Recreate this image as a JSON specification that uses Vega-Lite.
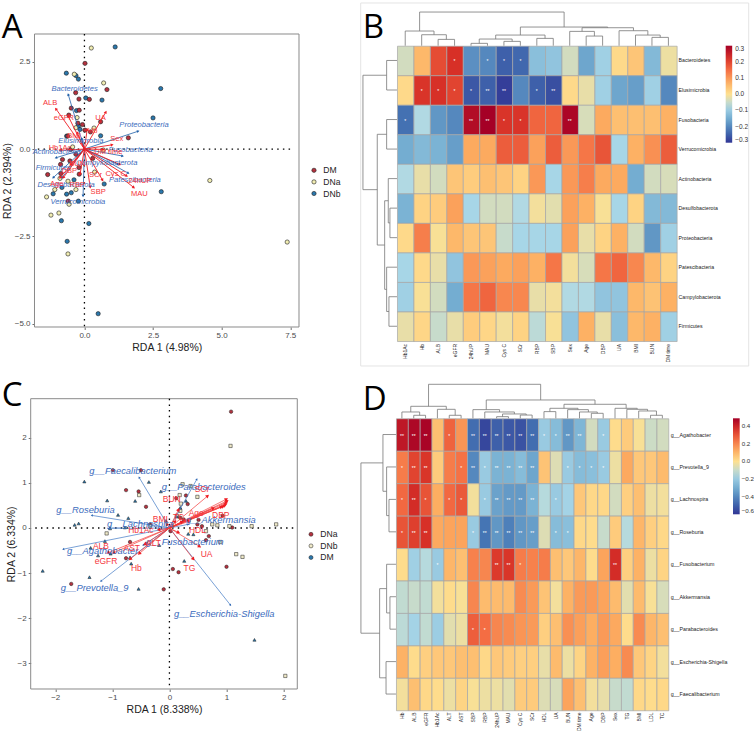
{"$schema":"https://vega.github.io/schema/vega-lite/v6.json","padding":{"left":1.7,"top":2,"right":0,"bottom":0},"columns":2,"align":"none","bounds":"flush","spacing":{"row":10,"column":61},
"config":{"view":{"stroke":null},"font":"Liberation Sans","axis":{"grid":false,"domain":false,"tickColor":"#333333","tickSize":2.5,"tickWidth":0.7,"labelFontSize":8,"labelColor":"#4d4d4d","labelFont":"Liberation Sans","titleFont":"Liberation Sans","titleFontSize":10.5,"titleFontWeight":"normal","titleColor":"#222222"},"legend":{"labelFont":"Liberation Sans"},"title":{"font":"Open Sans","fontSize":33,"fontWeight":"normal","color":"#000000","anchor":"start","frame":"group","baseline":"alphabetic"}},
"datasets":{
"a_pts":[{"x":1.12,"y":2.92,"g":"DNb"},{"x":-0.66,"y":2.17,"g":"DNb"},{"x":-0.31,"y":2.1,"g":"DNb"},{"x":-0.22,"y":2.0,"g":"DNb"},{"x":2.78,"y":1.73,"g":"DNb"},{"x":0.05,"y":1.46,"g":"DNb"},{"x":0.64,"y":1.4,"g":"DNb"},{"x":2.5,"y":0.89,"g":"DNb"},{"x":-0.29,"y":1.1,"g":"DNb"},{"x":0.59,"y":0.38,"g":"DNb"},{"x":-0.65,"y":0.37,"g":"DNb"},{"x":-0.38,"y":-0.88,"g":"DNb"},{"x":0.72,"y":-1.0,"g":"DNb"},{"x":2.8,"y":-1.22,"g":"DNb"},{"x":-1.14,"y":-1.28,"g":"DNb"},{"x":-0.65,"y":-1.29,"g":"DNb"},{"x":-0.48,"y":-1.25,"g":"DNb"},{"x":-0.22,"y":-1.49,"g":"DNb"},{"x":-0.84,"y":-2.05,"g":"DNb"},{"x":0.16,"y":-2.13,"g":"DNb"},{"x":-0.63,"y":-2.64,"g":"DNb"},{"x":0.5,"y":-4.71,"g":"DNb"},{"x":-0.22,"y":0.66,"g":"DNb"},{"x":-0.16,"y":0.56,"g":"DNb"},{"x":-0.82,"y":-1.1,"g":"DNb"},
{"x":0.02,"y":2.45,"g":"DM"},{"x":0.82,"y":1.7,"g":"DM"},{"x":-0.32,"y":1.61,"g":"DM"},{"x":-0.2,"y":1.43,"g":"DM"},{"x":0.18,"y":1.42,"g":"DM"},{"x":-0.48,"y":1.17,"g":"DM"},{"x":-0.19,"y":1.11,"g":"DM"},{"x":-0.57,"y":0.97,"g":"DM"},{"x":-0.07,"y":0.7,"g":"DM"},{"x":-0.24,"y":0.74,"g":"DM"},{"x":0.59,"y":0.78,"g":"DM"},{"x":0.02,"y":0.54,"g":"DM"},{"x":0.22,"y":0.49,"g":"DM"},{"x":1.6,"y":0.32,"g":"DM"},{"x":-0.61,"y":0.37,"g":"DM"},{"x":-0.5,"y":-0.01,"g":"DM"},{"x":-0.8,"y":-0.3,"g":"DM"},{"x":-0.87,"y":-0.44,"g":"DM"},{"x":-1.34,"y":-0.73,"g":"DM"},{"x":-0.86,"y":-0.7,"g":"DM"},{"x":-0.19,"y":-0.72,"g":"DM"},{"x":-0.2,"y":-0.53,"g":"DM"},{"x":-0.53,"y":-0.34,"g":"DM"},{"x":-0.59,"y":-1.49,"g":"DM"},{"x":-0.31,"y":-0.15,"g":"DM"},{"x":0.3,"y":-0.27,"g":"DM"},
{"x":0.25,"y":2.89,"g":"DNa"},{"x":-0.37,"y":2.14,"g":"DNa"},{"x":0.7,"y":1.89,"g":"DNa"},{"x":-0.27,"y":0.9,"g":"DNa"},{"x":-0.31,"y":0.61,"g":"DNa"},{"x":0.35,"y":0.6,"g":"DNa"},{"x":-0.43,"y":0.06,"g":"DNa"},{"x":0.69,"y":-0.03,"g":"DNa"},{"x":0.37,"y":-0.66,"g":"DNa"},{"x":-0.89,"y":-0.84,"g":"DNa"},{"x":-0.6,"y":-0.92,"g":"DNa"},{"x":-0.31,"y":-1.16,"g":"DNa"},{"x":-1.08,"y":-1.16,"g":"DNa"},{"x":-1.38,"y":-1.37,"g":"DNa"},{"x":-0.93,"y":-1.83,"g":"DNa"},{"x":-1.22,"y":-1.89,"g":"DNa"},{"x":-0.56,"y":-1.58,"g":"DNa"},{"x":-0.6,"y":-3.0,"g":"DNa"},{"x":4.57,"y":-0.9,"g":"DNa"},{"x":7.39,"y":-2.66,"g":"DNa"}],
"a_env":[{"name":"ALB","x":-1.04,"y":1.15,"label_x":-1.25,"label_y":1.32,"bearing":-35},{"name":"eGFR","x":-0.59,"y":0.94,"label_x":-0.75,"label_y":0.9,"bearing":-26},{"name":"UA","x":0.78,"y":1.06,"label_x":0.59,"label_y":0.88,"bearing":30},{"name":"Hb","x":0.1,"y":0.56,"label_x":0.3,"label_y":0.51,"bearing":8},{"name":"Sex","x":1.01,"y":0.12,"label_x":1.18,"label_y":0.3,"bearing":81},{"name":"Hb1Ac","x":-0.89,"y":-0.04,"label_x":-0.89,"label_y":0.02,"bearing":-93},{"name":"DM time","x":0.69,"y":-0.01,"label_x":0.87,"label_y":-0.08,"bearing":91},{"name":"Cys C","x":1.29,"y":-0.44,"label_x":1.14,"label_y":-0.72,"bearing":113},{"name":"MAU","x":1.8,"y":-1.1,"label_x":2.0,"label_y":-1.28,"bearing":128},{"name":"24hUP","x":1.54,"y":-0.77,"label_x":2.02,"label_y":-0.91,"bearing":123},{"name":"SBP","x":0.21,"y":-1.09,"label_x":0.5,"label_y":-1.22,"bearing":171},{"name":"SCr","x":0.66,"y":-0.89,"label_x":0.4,"label_y":-0.75,"bearing":150},{"name":"RBP","x":-0.16,"y":-0.72,"label_x":-0.26,"label_y":-1.04,"bearing":-170},{"name":"DBP","x":-0.77,"y":-0.82,"label_x":-0.55,"label_y":-0.63,"bearing":-144},{"name":"Age","x":-0.89,"y":-0.82,"label_x":-1.01,"label_y":-1.01,"bearing":-140},{"name":"BMI","x":-0.26,"y":0.47,"label_x":-0.38,"label_y":0.37,"bearing":-23},{"name":"BUN","x":-0.5,"y":-0.44,"label_x":-0.26,"label_y":-0.44,"bearing":-138}],
"a_sp":[{"name":"Bacteroidetes","x":-0.59,"y":1.56,"label_x":-0.36,"label_y":1.72,"bearing":-17},{"name":"Proteobacteria","x":1.96,"y":0.51,"label_x":2.17,"label_y":0.69,"bearing":72},{"name":"Elusimicrobia","x":-0.1,"y":0.3,"label_x":-0.13,"label_y":0.23,"bearing":-15},{"name":"Fusobacteria","x":1.39,"y":-0.2,"label_x":1.68,"label_y":-0.03,"bearing":100},{"name":"Actinobacteria","x":-1.04,"y":-0.25,"label_x":-1.01,"label_y":-0.09,"bearing":-107},{"name":"Patescibacteria","x":1.6,"y":-0.69,"label_x":1.84,"label_y":-0.89,"bearing":119},{"name":"Campylobacterota","x":1.23,"y":-0.44,"label_x":0.81,"label_y":-0.4,"bearing":114},{"name":"Firmicutes","x":-1.14,"y":-0.82,"label_x":-1.14,"label_y":-0.53,"bearing":-133},{"name":"Desulfobacterota","x":-0.82,"y":-0.82,"label_x":-0.67,"label_y":-1.02,"bearing":-142},{"name":"Verrucomicrobia","x":-0.05,"y":-1.34,"label_x":-0.24,"label_y":-1.51,"bearing":-178}],
"c_pts":[{"x":1.08,"y":2.58,"g":"DNa"},{"x":-0.99,"y":1.28,"g":"DNa"},{"x":-0.5,"y":1.28,"g":"DNa"},{"x":-0.76,"y":0.84,"g":"DNa"},{"x":-0.54,"y":0.81,"g":"DNa"},{"x":-0.41,"y":0.47,"g":"DNa"},{"x":0.29,"y":0.72,"g":"DNa"},{"x":0.32,"y":0.53,"g":"DNa"},{"x":0.51,"y":0.18,"g":"DNa"},{"x":0.12,"y":0.66,"g":"DNa"},{"x":-0.34,"y":0.08,"g":"DNa"},{"x":-0.69,"y":-0.31,"g":"DNa"},{"x":-0.76,"y":-0.67,"g":"DNa"},{"x":0.06,"y":-0.91,"g":"DNa"},{"x":0.16,"y":-0.98,"g":"DNa"},{"x":1.0,"y":-0.86,"g":"DNa"},{"x":-1.72,"y":-1.24,"g":"DNa"},{"x":-0.1,"y":-1.36,"g":"DNa"},{"x":0.69,"y":-0.18,"g":"DNa"},{"x":0.64,"y":-0.27,"g":"DNa"},{"x":0.49,"y":0.08,"g":"DNa"},{"x":0.19,"y":0.23,"g":"DNa"},{"x":1.1,"y":0.01,"g":"DNa"},{"x":0.25,"y":0.19,"g":"DNa"},{"x":0.93,"y":0.27,"g":"DNa"},{"x":0.02,"y":-0.07,"g":"DNa"},{"x":0.57,"y":0.04,"g":"DNa"},
{"x":1.07,"y":1.82,"g":"DNb"},{"x":-0.53,"y":0.73,"g":"DNb"},{"x":-1.1,"y":-0.12,"g":"DNb"},{"x":-0.34,"y":0.04,"g":"DNb"},{"x":0.23,"y":0.97,"g":"DNb"},{"x":0.49,"y":0.69,"g":"DNb"},{"x":0.18,"y":0.73,"g":"DNb"},{"x":0.2,"y":0.54,"g":"DNb"},{"x":0.13,"y":0.27,"g":"DNb"},{"x":0.75,"y":0.08,"g":"DNb"},{"x":0.84,"y":0.06,"g":"DNb"},{"x":1.05,"y":0.04,"g":"DNb"},{"x":1.44,"y":0.04,"g":"DNb"},{"x":1.87,"y":0.08,"g":"DNb"},{"x":1.17,"y":-0.58,"g":"DNb"},{"x":1.28,"y":-0.64,"g":"DNb"},{"x":2.03,"y":-3.28,"g":"DNb"},{"x":0.64,"y":-0.07,"g":"DNb"},{"x":0.89,"y":-0.31,"g":"DNb"},{"x":0.19,"y":0.38,"g":"DNb"},{"x":0.37,"y":0.93,"g":"DNb"},
{"x":-1.49,"y":1.03,"g":"DM"},{"x":-0.36,"y":1.02,"g":"DM"},{"x":-0.15,"y":0.81,"g":"DM"},{"x":-1.09,"y":0.61,"g":"DM"},{"x":-0.6,"y":0.6,"g":"DM"},{"x":-0.9,"y":0.29,"g":"DM"},{"x":-0.72,"y":0.22,"g":"DM"},{"x":-1.59,"y":0.1,"g":"DM"},{"x":-1.66,"y":0.07,"g":"DM"},{"x":-1.04,"y":-0.01,"g":"DM"},{"x":-0.78,"y":0.01,"g":"DM"},{"x":-1.13,"y":-0.29,"g":"DM"},{"x":-1.38,"y":-0.44,"g":"DM"},{"x":-1.25,"y":-0.61,"g":"DM"},{"x":-1.03,"y":-0.57,"g":"DM"},{"x":-0.67,"y":-0.79,"g":"DM"},{"x":-0.69,"y":-0.65,"g":"DM"},{"x":-2.22,"y":-0.95,"g":"DM"},{"x":-1.4,"y":-1.09,"g":"DM"},{"x":-0.54,"y":-1.35,"g":"DM"},{"x":0.26,"y":-0.73,"g":"DM"},{"x":1.49,"y":-2.48,"g":"DM"},{"x":-0.18,"y":-0.38,"g":"DM"},{"x":-0.41,"y":-0.34,"g":"DM"},{"x":0.42,"y":-0.14,"g":"DM"},{"x":0.33,"y":-0.13,"g":"DM"},{"x":0.29,"y":0.6,"g":"DM"},{"x":0.19,"y":0.45,"g":"DM"},{"x":0.13,"y":0.25,"g":"DM"},{"x":-0.06,"y":0.16,"g":"DM"}],
"c_env":[{"name":"DBP","x":1.0,"y":0.64,"label_x":0.9,"label_y":0.29,"bearing":63},{"name":"24hUP","x":1.01,"y":0.6,"bearing":65},{"name":"MAU","x":1.0,"y":0.57,"bearing":66},{"name":"Cys C","x":0.99,"y":0.53,"bearing":67},{"name":"SBP","x":0.97,"y":0.5,"bearing":68},{"name":"RBP","x":0.94,"y":0.48,"bearing":68},{"name":"Sex","x":0.91,"y":0.47,"bearing":68},{"name":"SCr","x":0.67,"y":0.71,"label_x":0.57,"label_y":0.87,"bearing":50},{"name":"Age","x":0.77,"y":0.44,"label_x":0.47,"label_y":0.34,"bearing":66},{"name":"BUN","x":0.16,"y":0.41,"label_x":0.04,"label_y":0.64,"bearing":26},{"name":"TC","x":0.1,"y":0.15,"label_x":0.16,"label_y":0.25,"bearing":40},{"name":"LDL","x":0.22,"y":0.14,"bearing":65},{"name":"DM time","x":0.35,"y":0.15,"bearing":71},{"name":"BMI","x":-0.05,"y":0.09,"label_x":-0.16,"label_y":0.21,"bearing":-35},{"name":"HDL","x":0.16,"y":-0.1,"label_x":0.49,"label_y":-0.05,"bearing":116},{"name":"UA","x":0.53,"y":-0.41,"label_x":0.65,"label_y":-0.58,"bearing":121},{"name":"TG","x":0.42,"y":-0.69,"label_x":0.35,"label_y":-0.88,"bearing":142},{"name":"Hb","x":-0.69,"y":-0.69,"label_x":-0.58,"label_y":-0.88,"bearing":-128},{"name":"eGFR","x":-0.53,"y":-0.57,"label_x":-1.11,"label_y":-0.74,"bearing":-130},{"name":"ALB","x":-1.08,"y":-0.55,"label_x":-1.2,"label_y":-0.41,"bearing":-112},{"name":"AST","x":-0.98,"y":-0.55,"label_x":-0.66,"label_y":-0.45,"bearing":-114},{"name":"ALT","x":-0.43,"y":-0.36,"label_x":-0.28,"label_y":-0.33,"bearing":-123},{"name":"Hb1Ac","x":-0.19,"y":-0.04,"label_x":-0.5,"label_y":-0.05,"bearing":-100}],
"c_sp":[{"name":"g__Faecalibacterium","x":-0.53,"y":1.12,"label_x":-0.64,"label_y":1.26,"bearing":-31},{"name":"g__Parabacteroides","x":0.48,"y":1.08,"label_x":0.6,"label_y":0.92,"bearing":29},{"name":"g__Roseburia","x":-1.36,"y":0.28,"label_x":-1.47,"label_y":0.41,"bearing":-81},{"name":"g__Lachnospira","x":-1.07,"y":-0.01,"label_x":-0.51,"label_y":0.08,"bearing":-91},{"name":"g__Agathobacter","x":-1.86,"y":-0.47,"label_x":-1.17,"label_y":-0.51,"bearing":-101},{"name":"g__Prevotella_9","x":-1.2,"y":-1.18,"label_x":-1.31,"label_y":-1.34,"bearing":-128},{"name":"g__Escherichia-Shigella","x":1.07,"y":-1.71,"label_x":0.96,"label_y":-1.9,"bearing":142},{"name":"g__Akkermansia","x":0.33,"y":0.08,"label_x":0.9,"label_y":0.18,"bearing":79},{"name":"g__Fusobacterium","x":-0.46,"y":-0.38,"label_x":0.27,"label_y":-0.32,"bearing":-123}],
"b_rows":[{"r":0,"label":"Bacteroidetes"},{"r":1,"label":"Elusimicrobia"},{"r":2,"label":"Fusobacteria"},{"r":3,"label":"Verrucomicrobia"},{"r":4,"label":"Actinobacteria"},{"r":5,"label":"Desulfobacterota"},{"r":6,"label":"Proteobacteria"},{"r":7,"label":"Patescibacteria"},{"r":8,"label":"Campylobacterota"},{"r":9,"label":"Firmicutes"}],
"b_cols":[{"c":0,"label":"Hb1Ac"},{"c":1,"label":"Hb"},{"c":2,"label":"ALB"},{"c":3,"label":"eGFR"},{"c":4,"label":"24hUP"},{"c":5,"label":"MAU"},{"c":6,"label":"Cys C"},{"c":7,"label":"SCr"},{"c":8,"label":"RBP"},{"c":9,"label":"SBP"},{"c":10,"label":"Sex"},{"c":11,"label":"Age"},{"c":12,"label":"DBP"},{"c":13,"label":"UA"},{"c":14,"label":"BMI"},{"c":15,"label":"BUN"},{"c":16,"label":"DM time"}],
"b_sig":[{"r":0,"c":3,"sig":"*"},{"r":0,"c":5,"sig":"*"},{"r":0,"c":6,"sig":"*"},{"r":0,"c":7,"sig":"*"},{"r":1,"c":1,"sig":"*"},{"r":1,"c":2,"sig":"*"},{"r":1,"c":3,"sig":"*"},{"r":1,"c":4,"sig":"*"},{"r":1,"c":5,"sig":"**"},{"r":1,"c":6,"sig":"**"},{"r":1,"c":8,"sig":"*"},{"r":1,"c":9,"sig":"**"},{"r":2,"c":0,"sig":"*"},{"r":2,"c":4,"sig":"**"},{"r":2,"c":5,"sig":"**"},{"r":2,"c":6,"sig":"*"},{"r":2,"c":7,"sig":"*"},{"r":2,"c":10,"sig":"**"}],
"b_top":[{"a":2.5,"da":0,"b":3.5,"db":0,"h":-0.214},{"a":1.5,"da":0,"b":3,"db":-0.214,"h":-0.372},{"a":0.5,"da":0,"b":2.25,"db":-0.372,"h":-0.497},{"a":4.5,"da":0,"b":5.5,"db":0,"h":-0.08},{"a":6.5,"da":0,"b":7.5,"db":0,"h":-0.147},{"a":5,"da":-0.08,"b":7,"db":-0.147,"h":-0.226},{"a":8.5,"da":0,"b":9.5,"db":0,"h":-0.248},{"a":6,"da":-0.226,"b":9,"db":-0.248,"h":-0.361},{"a":11.5,"da":0,"b":12.5,"db":0,"h":-0.327},{"a":10.5,"da":0,"b":12,"db":-0.327,"h":-0.485},{"a":15.5,"da":0,"b":16.5,"db":0,"h":-0.282},{"a":14.5,"da":0,"b":16,"db":-0.282,"h":-0.361},{"a":13.5,"da":0,"b":15.25,"db":-0.361,"h":-0.508},{"a":11.25,"da":-0.485,"b":14.375,"db":-0.508,"h":-0.609},{"a":7.5,"da":-0.361,"b":12.81,"db":-0.609,"h":-0.632},{"a":1.375,"da":-0.497,"b":10.16,"db":-0.632,"h":-1.14}],
"b_left":[{"a":0.5,"da":0,"b":1.5,"db":0,"h":-0.63},{"a":2.5,"da":0,"b":3.5,"db":0,"h":-0.63},{"a":5.5,"da":0,"b":6.5,"db":0,"h":-0.43},{"a":4.5,"da":0,"b":6,"db":-0.43,"h":-0.53},{"a":8.5,"da":0,"b":9.5,"db":0,"h":-0.49},{"a":7.5,"da":0,"b":9,"db":-0.49,"h":-0.63},{"a":5.25,"da":-0.53,"b":8.25,"db":-0.63,"h":-0.75},{"a":3,"da":-0.63,"b":6.75,"db":-0.75,"h":-1.2},{"a":1,"da":-0.63,"b":4.875,"db":-1.2,"h":-2.07}],
"b_heat":[{"r":0,"c":0,"v":-0.04},{"r":0,"c":1,"v":0.06},{"r":0,"c":2,"v":0.19},{"r":0,"c":3,"v":0.225},{"r":0,"c":4,"v":-0.19},{"r":0,"c":5,"v":-0.2},{"r":0,"c":6,"v":-0.25},{"r":0,"c":7,"v":-0.24},{"r":0,"c":8,"v":-0.12},{"r":0,"c":9,"v":-0.11},{"r":0,"c":10,"v":-0.04},{"r":0,"c":11,"v":-0.16},{"r":0,"c":12,"v":-0.09},{"r":0,"c":13,"v":0.01},{"r":0,"c":14,"v":0.04},{"r":0,"c":15,"v":-0.13},{"r":0,"c":16,"v":-0.015},
{"r":1,"c":0,"v":0.01},{"r":1,"c":1,"v":0.22},{"r":1,"c":2,"v":0.225},{"r":1,"c":3,"v":0.2},{"r":1,"c":4,"v":-0.26},{"r":1,"c":5,"v":-0.25},{"r":1,"c":6,"v":-0.29},{"r":1,"c":7,"v":-0.2},{"r":1,"c":8,"v":-0.25},{"r":1,"c":9,"v":-0.27},{"r":1,"c":10,"v":0.01},{"r":1,"c":11,"v":-0.02},{"r":1,"c":12,"v":-0.09},{"r":1,"c":13,"v":-0.16},{"r":1,"c":14,"v":-0.17},{"r":1,"c":15,"v":-0.09},{"r":1,"c":16,"v":-0.2},
{"r":2,"c":0,"v":-0.23},{"r":2,"c":1,"v":-0.07},{"r":2,"c":2,"v":-0.18},{"r":2,"c":3,"v":-0.2},{"r":2,"c":4,"v":0.28},{"r":2,"c":5,"v":0.3},{"r":2,"c":6,"v":0.22},{"r":2,"c":7,"v":0.22},{"r":2,"c":8,"v":0.16},{"r":2,"c":9,"v":0.16},{"r":2,"c":10,"v":0.29},{"r":2,"c":11,"v":-0.035},{"r":2,"c":12,"v":0.08},{"r":2,"c":13,"v":0.05},{"r":2,"c":14,"v":0.05},{"r":2,"c":15,"v":0.05},{"r":2,"c":16,"v":0.07},
{"r":3,"c":0,"v":-0.15},{"r":3,"c":1,"v":-0.13},{"r":3,"c":2,"v":-0.14},{"r":3,"c":3,"v":-0.17},{"r":3,"c":4,"v":0.08},{"r":3,"c":5,"v":0.08},{"r":3,"c":6,"v":0.17},{"r":3,"c":7,"v":0.17},{"r":3,"c":8,"v":0.09},{"r":3,"c":9,"v":0.17},{"r":3,"c":10,"v":0.1},{"r":3,"c":11,"v":0.14},{"r":3,"c":12,"v":0.18},{"r":3,"c":13,"v":-0.08},{"r":3,"c":14,"v":0.07},{"r":3,"c":15,"v":0.11},{"r":3,"c":16,"v":0.17},
{"r":4,"c":0,"v":-0.07},{"r":4,"c":1,"v":-0.02},{"r":4,"c":2,"v":-0.04},{"r":4,"c":3,"v":0.04},{"r":4,"c":4,"v":0.03},{"r":4,"c":5,"v":0.05},{"r":4,"c":6,"v":0.04},{"r":4,"c":7,"v":0.02},{"r":4,"c":8,"v":0.1},{"r":4,"c":9,"v":-0.08},{"r":4,"c":10,"v":0.1},{"r":4,"c":11,"v":0.13},{"r":4,"c":12,"v":0.08},{"r":4,"c":13,"v":0.08},{"r":4,"c":14,"v":-0.15},{"r":4,"c":15,"v":-0.04},{"r":4,"c":16,"v":-0.035},
{"r":5,"c":0,"v":-0.14},{"r":5,"c":1,"v":0.02},{"r":5,"c":2,"v":0.03},{"r":5,"c":3,"v":0.09},{"r":5,"c":4,"v":-0.08},{"r":5,"c":5,"v":-0.04},{"r":5,"c":6,"v":-0.04},{"r":5,"c":7,"v":-0.07},{"r":5,"c":8,"v":-0.01},{"r":5,"c":9,"v":-0.025},{"r":5,"c":10,"v":0.09},{"r":5,"c":11,"v":0.07},{"r":5,"c":12,"v":-0.005},{"r":5,"c":13,"v":-0.08},{"r":5,"c":14,"v":0.02},{"r":5,"c":15,"v":-0.13},{"r":5,"c":16,"v":-0.13},
{"r":6,"c":0,"v":0.01},{"r":6,"c":1,"v":0.13},{"r":6,"c":2,"v":-0.005},{"r":6,"c":3,"v":0.06},{"r":6,"c":4,"v":0.04},{"r":6,"c":5,"v":0.04},{"r":6,"c":6,"v":-0.05},{"r":6,"c":7,"v":-0.08},{"r":6,"c":8,"v":-0.08},{"r":6,"c":9,"v":-0.08},{"r":6,"c":10,"v":0.09},{"r":6,"c":11,"v":-0.02},{"r":6,"c":12,"v":0.02},{"r":6,"c":13,"v":0.07},{"r":6,"c":14,"v":-0.04},{"r":6,"c":15,"v":-0.18},{"r":6,"c":16,"v":-0.09},
{"r":7,"c":0,"v":-0.08},{"r":7,"c":1,"v":0.01},{"r":7,"c":2,"v":-0.02},{"r":7,"c":3,"v":-0.11},{"r":7,"c":4,"v":0.1},{"r":7,"c":5,"v":0.09},{"r":7,"c":6,"v":0.08},{"r":7,"c":7,"v":0.09},{"r":7,"c":8,"v":0.07},{"r":7,"c":9,"v":0.14},{"r":7,"c":10,"v":-0.01},{"r":7,"c":11,"v":-0.035},{"r":7,"c":12,"v":0.14},{"r":7,"c":13,"v":0.16},{"r":7,"c":14,"v":0.12},{"r":7,"c":15,"v":0.06},{"r":7,"c":16,"v":0.02},
{"r":8,"c":0,"v":-0.09},{"r":8,"c":1,"v":-0.005},{"r":8,"c":2,"v":-0.04},{"r":8,"c":3,"v":-0.15},{"r":8,"c":4,"v":0.14},{"r":8,"c":5,"v":0.16},{"r":8,"c":6,"v":0.12},{"r":8,"c":7,"v":0.12},{"r":8,"c":8,"v":-0.02},{"r":8,"c":9,"v":-0.01},{"r":8,"c":10,"v":-0.07},{"r":8,"c":11,"v":-0.07},{"r":8,"c":12,"v":-0.11},{"r":8,"c":13,"v":-0.11},{"r":8,"c":14,"v":0.06},{"r":8,"c":15,"v":0.045},{"r":8,"c":16,"v":0.07},
{"r":9,"c":0,"v":-0.02},{"r":9,"c":1,"v":0.015},{"r":9,"c":2,"v":-0.05},{"r":9,"c":3,"v":-0.02},{"r":9,"c":4,"v":0.03},{"r":9,"c":5,"v":0.015},{"r":9,"c":6,"v":-0.01},{"r":9,"c":7,"v":0.02},{"r":9,"c":8,"v":-0.06},{"r":9,"c":9,"v":-0.005},{"r":9,"c":10,"v":-0.11},{"r":9,"c":11,"v":0.07},{"r":9,"c":12,"v":-0.02},{"r":9,"c":13,"v":-0.12},{"r":9,"c":14,"v":0.06},{"r":9,"c":15,"v":0.07},{"r":9,"c":16,"v":-0.09}],
"d_rows":[{"r":0,"label":"g__Agathobacter"},{"r":1,"label":"g__Prevotella_9"},{"r":2,"label":"g__Lachnospira"},{"r":3,"label":"g__Roseburia"},{"r":4,"label":"g__Fusobacterium"},{"r":5,"label":"g__Akkermansia"},{"r":6,"label":"g__Parabacteroides"},{"r":7,"label":"g__Escherichia-Shigella"},{"r":8,"label":"g__Faecalibacterium"}],
"d_cols":[{"c":0,"label":"Hb"},{"c":1,"label":"ALB"},{"c":2,"label":"eGFR"},{"c":3,"label":"Hb1Ac"},{"c":4,"label":"ALT"},{"c":5,"label":"AST"},{"c":6,"label":"SBP"},{"c":7,"label":"RBP"},{"c":8,"label":"24hUP"},{"c":9,"label":"MAU"},{"c":10,"label":"Cys C"},{"c":11,"label":"SCr"},{"c":12,"label":"HDL"},{"c":13,"label":"UA"},{"c":14,"label":"BUN"},{"c":15,"label":"DM time"},{"c":16,"label":"Age"},{"c":17,"label":"DBP"},{"c":18,"label":"Sex"},{"c":19,"label":"TG"},{"c":20,"label":"BMI"},{"c":21,"label":"LDL"},{"c":22,"label":"TC"}],
"d_sig":[{"r":0,"c":0,"sig":"**"},{"r":0,"c":1,"sig":"**"},{"r":0,"c":2,"sig":"**"},{"r":0,"c":4,"sig":"*"},{"r":0,"c":6,"sig":"**"},{"r":0,"c":7,"sig":"**"},{"r":0,"c":8,"sig":"**"},{"r":0,"c":9,"sig":"**"},{"r":0,"c":10,"sig":"**"},{"r":0,"c":11,"sig":"**"},{"r":0,"c":12,"sig":"*"},{"r":0,"c":13,"sig":"*"},{"r":0,"c":14,"sig":"**"},{"r":0,"c":15,"sig":"**"},{"r":0,"c":17,"sig":"*"},
{"r":1,"c":0,"sig":"*"},{"r":1,"c":1,"sig":"**"},{"r":1,"c":2,"sig":"**"},{"r":1,"c":5,"sig":"*"},{"r":1,"c":6,"sig":"**"},{"r":1,"c":7,"sig":"*"},{"r":1,"c":8,"sig":"**"},{"r":1,"c":9,"sig":"**"},{"r":1,"c":10,"sig":"**"},{"r":1,"c":11,"sig":"**"},{"r":1,"c":14,"sig":"*"},{"r":1,"c":15,"sig":"*"},{"r":1,"c":16,"sig":"*"},{"r":1,"c":17,"sig":"*"},
{"r":2,"c":0,"sig":"*"},{"r":2,"c":1,"sig":"**"},{"r":2,"c":2,"sig":"*"},{"r":2,"c":4,"sig":"*"},{"r":2,"c":5,"sig":"*"},{"r":2,"c":7,"sig":"*"},{"r":2,"c":8,"sig":"**"},{"r":2,"c":9,"sig":"**"},{"r":2,"c":10,"sig":"**"},{"r":2,"c":11,"sig":"**"},{"r":2,"c":13,"sig":"*"},
{"r":3,"c":0,"sig":"*"},{"r":3,"c":1,"sig":"**"},{"r":3,"c":2,"sig":"**"},{"r":3,"c":6,"sig":"*"},{"r":3,"c":7,"sig":"**"},{"r":3,"c":8,"sig":"**"},{"r":3,"c":9,"sig":"**"},{"r":3,"c":10,"sig":"**"},{"r":3,"c":11,"sig":"**"},{"r":3,"c":13,"sig":"*"},{"r":3,"c":14,"sig":"*"},
{"r":4,"c":3,"sig":"*"},{"r":4,"c":8,"sig":"**"},{"r":4,"c":9,"sig":"**"},{"r":4,"c":10,"sig":"*"},{"r":4,"c":18,"sig":"**"},{"r":6,"c":6,"sig":"*"},{"r":6,"c":7,"sig":"*"}],
"d_top":[{"a":1.5,"da":0,"b":2.5,"db":0,"h":-0.093},{"a":0.5,"da":0,"b":2,"db":-0.093,"h":-0.195},{"a":4.5,"da":0,"b":5.5,"db":0,"h":-0.093},{"a":3.5,"da":0,"b":5,"db":-0.093,"h":-0.277},{"a":1.25,"da":-0.195,"b":4.25,"db":-0.277,"h":-0.37},{"a":8.5,"da":0,"b":9.5,"db":0,"h":-0.05},{"a":10.5,"da":0,"b":11.5,"db":0,"h":-0.1},{"a":9,"da":-0.05,"b":11,"db":-0.1,"h":-0.134},{"a":7.5,"da":0,"b":10,"db":-0.134,"h":-0.195},{"a":6.5,"da":0,"b":8.75,"db":-0.195,"h":-0.267},{"a":12.5,"da":0,"b":13.5,"db":0,"h":-0.206},{"a":16.5,"da":0,"b":17.5,"db":0,"h":-0.154},{"a":15.5,"da":0,"b":17,"db":-0.154,"h":-0.195},{"a":14.5,"da":0,"b":16.25,"db":-0.195,"h":-0.267},{"a":13,"da":-0.206,"b":15.375,"db":-0.267,"h":-0.308},{"a":21.5,"da":0,"b":22.5,"db":0,"h":-0.093},{"a":20.5,"da":0,"b":22,"db":-0.093,"h":-0.226},{"a":19.5,"da":0,"b":21.25,"db":-0.226,"h":-0.277},{"a":18.5,"da":0,"b":20.375,"db":-0.277,"h":-0.308},{"a":14.19,"da":-0.308,"b":19.44,"db":-0.308,"h":-0.432},{"a":7.625,"da":-0.267,"b":16.81,"db":-0.432,"h":-0.565},{"a":2.75,"da":-0.37,"b":12.22,"db":-0.565,"h":-1.048}],
"d_left":[{"a":2.5,"da":0,"b":3.5,"db":0,"h":-0.59},{"a":1.5,"da":0,"b":3,"db":-0.59,"h":-0.79},{"a":0.5,"da":0,"b":2.25,"db":-0.79,"h":-1.1},{"a":5.5,"da":0,"b":6.5,"db":0,"h":-0.51},{"a":4.5,"da":0,"b":6,"db":-0.51,"h":-0.79},{"a":7.5,"da":0,"b":8.5,"db":0,"h":-0.84},{"a":5.25,"da":-0.79,"b":8,"db":-0.84,"h":-1.38},{"a":1.375,"da":-1.1,"b":6.625,"db":-1.38,"h":-2.96}],
"d_heat":[{"r":0,"c":0,"v":0.43},{"r":0,"c":1,"v":0.47},{"r":0,"c":2,"v":0.48},{"r":0,"c":3,"v":0.08},{"r":0,"c":4,"v":0.27},{"r":0,"c":5,"v":0.17},{"r":0,"c":6,"v":-0.47},{"r":0,"c":7,"v":-0.56},{"r":0,"c":8,"v":-0.5},{"r":0,"c":9,"v":-0.52},{"r":0,"c":10,"v":-0.53},{"r":0,"c":11,"v":-0.47},{"r":0,"c":12,"v":-0.2},{"r":0,"c":13,"v":-0.25},{"r":0,"c":14,"v":-0.36},{"r":0,"c":15,"v":-0.27},{"r":0,"c":16,"v":-0.08},{"r":0,"c":17,"v":-0.2},{"r":0,"c":18,"v":0.01},{"r":0,"c":19,"v":0.05},{"r":0,"c":20,"v":-0.01},{"r":0,"c":21,"v":-0.09},{"r":0,"c":22,"v":-0.08},
{"r":1,"c":0,"v":0.22},{"r":1,"c":1,"v":0.33},{"r":1,"c":2,"v":0.36},{"r":1,"c":3,"v":0.05},{"r":1,"c":4,"v":0.22},{"r":1,"c":5,"v":0.24},{"r":1,"c":6,"v":-0.4},{"r":1,"c":7,"v":-0.2},{"r":1,"c":8,"v":-0.28},{"r":1,"c":9,"v":-0.28},{"r":1,"c":10,"v":-0.25},{"r":1,"c":11,"v":-0.32},{"r":1,"c":12,"v":0.07},{"r":1,"c":13,"v":-0.06},{"r":1,"c":14,"v":-0.2},{"r":1,"c":15,"v":-0.25},{"r":1,"c":16,"v":-0.24},{"r":1,"c":17,"v":-0.2},{"r":1,"c":18,"v":-0.03},{"r":1,"c":19,"v":0.13},{"r":1,"c":20,"v":0.06},{"r":1,"c":21,"v":0.06},{"r":1,"c":22,"v":0.09},
{"r":2,"c":0,"v":0.26},{"r":2,"c":1,"v":0.38},{"r":2,"c":2,"v":0.3},{"r":2,"c":3,"v":0.12},{"r":2,"c":4,"v":0.26},{"r":2,"c":5,"v":0.29},{"r":2,"c":6,"v":-0.02},{"r":2,"c":7,"v":-0.2},{"r":2,"c":8,"v":-0.33},{"r":2,"c":9,"v":-0.35},{"r":2,"c":10,"v":-0.35},{"r":2,"c":11,"v":-0.28},{"r":2,"c":12,"v":-0.13},{"r":2,"c":13,"v":-0.2},{"r":2,"c":14,"v":-0.17},{"r":2,"c":15,"v":0.06},{"r":2,"c":16,"v":0.02},{"r":2,"c":17,"v":0.02},{"r":2,"c":18,"v":-0.08},{"r":2,"c":19,"v":0.04},{"r":2,"c":20,"v":0.08},{"r":2,"c":21,"v":-0.03},{"r":2,"c":22,"v":-0.02},
{"r":3,"c":0,"v":0.3},{"r":3,"c":1,"v":0.34},{"r":3,"c":2,"v":0.37},{"r":3,"c":3,"v":0.13},{"r":3,"c":4,"v":0.14},{"r":3,"c":5,"v":0.14},{"r":3,"c":6,"v":-0.2},{"r":3,"c":7,"v":-0.45},{"r":3,"c":8,"v":-0.36},{"r":3,"c":9,"v":-0.42},{"r":3,"c":10,"v":-0.36},{"r":3,"c":11,"v":-0.34},{"r":3,"c":12,"v":-0.06},{"r":3,"c":13,"v":-0.25},{"r":3,"c":14,"v":-0.24},{"r":3,"c":15,"v":0.02},{"r":3,"c":16,"v":0.01},{"r":3,"c":17,"v":-0.1},{"r":3,"c":18,"v":0.05},{"r":3,"c":19,"v":-0.13},{"r":3,"c":20,"v":0.1},{"r":3,"c":21,"v":0.04},{"r":3,"c":22,"v":0.02},
{"r":4,"c":0,"v":0.01},{"r":4,"c":1,"v":-0.18},{"r":4,"c":2,"v":-0.13},{"r":4,"c":3,"v":-0.2},{"r":4,"c":4,"v":0.1},{"r":4,"c":5,"v":0.08},{"r":4,"c":6,"v":0.21},{"r":4,"c":7,"v":0.2},{"r":4,"c":8,"v":0.35},{"r":4,"c":9,"v":0.36},{"r":4,"c":10,"v":0.22},{"r":4,"c":11,"v":0.21},{"r":4,"c":12,"v":0.22},{"r":4,"c":13,"v":0.08},{"r":4,"c":14,"v":0.06},{"r":4,"c":15,"v":0.1},{"r":4,"c":16,"v":0.01},{"r":4,"c":17,"v":0.14},{"r":4,"c":18,"v":0.38},{"r":4,"c":19,"v":0.04},{"r":4,"c":20,"v":0.11},{"r":4,"c":21,"v":-0.03},{"r":4,"c":22,"v":0.03},
{"r":5,"c":0,"v":-0.11},{"r":5,"c":1,"v":-0.1},{"r":5,"c":2,"v":-0.11},{"r":5,"c":3,"v":-0.02},{"r":5,"c":4,"v":0.01},{"r":5,"c":5,"v":-0.01},{"r":5,"c":6,"v":0.2},{"r":5,"c":7,"v":0.09},{"r":5,"c":8,"v":0.09},{"r":5,"c":9,"v":0.09},{"r":5,"c":10,"v":0.19},{"r":5,"c":11,"v":0.16},{"r":5,"c":12,"v":0.07},{"r":5,"c":13,"v":-0.02},{"r":5,"c":14,"v":0.11},{"r":5,"c":15,"v":0.16},{"r":5,"c":16,"v":0.16},{"r":5,"c":17,"v":0.14},{"r":5,"c":18,"v":0.09},{"r":5,"c":19,"v":-0.05},{"r":5,"c":20,"v":0.09},{"r":5,"c":21,"v":-0.01},{"r":5,"c":22,"v":-0.07},
{"r":6,"c":0,"v":-0.12},{"r":6,"c":1,"v":-0.17},{"r":6,"c":2,"v":-0.11},{"r":6,"c":3,"v":-0.19},{"r":6,"c":4,"v":-0.05},{"r":6,"c":5,"v":-0.03},{"r":6,"c":6,"v":0.28},{"r":6,"c":7,"v":0.25},{"r":6,"c":8,"v":0.2},{"r":6,"c":9,"v":0.19},{"r":6,"c":10,"v":0.17},{"r":6,"c":11,"v":0.16},{"r":6,"c":12,"v":0.04},{"r":6,"c":13,"v":0.08},{"r":6,"c":14,"v":0.18},{"r":6,"c":15,"v":0.15},{"r":6,"c":16,"v":0.12},{"r":6,"c":17,"v":0.16},{"r":6,"c":18,"v":0.13},{"r":6,"c":19,"v":0.01},{"r":6,"c":20,"v":0.19},{"r":6,"c":21,"v":0.1},{"r":6,"c":22,"v":0.08},
{"r":7,"c":0,"v":0.11},{"r":7,"c":1,"v":0.01},{"r":7,"c":2,"v":0.04},{"r":7,"c":3,"v":0.06},{"r":7,"c":4,"v":0.06},{"r":7,"c":5,"v":0.08},{"r":7,"c":6,"v":0.08},{"r":7,"c":7,"v":0.02},{"r":7,"c":8,"v":0.06},{"r":7,"c":9,"v":0.05},{"r":7,"c":10,"v":0.04},{"r":7,"c":11,"v":0.04},{"r":7,"c":12,"v":-0.04},{"r":7,"c":13,"v":0.09},{"r":7,"c":14,"v":-0.03},{"r":7,"c":15,"v":0.03},{"r":7,"c":16,"v":0.11},{"r":7,"c":17,"v":0.15},{"r":7,"c":18,"v":0.12},{"r":7,"c":19,"v":0.19},{"r":7,"c":20,"v":0.06},{"r":7,"c":21,"v":0.03},{"r":7,"c":22,"v":-0.02},
{"r":8,"c":0,"v":-0.02},{"r":8,"c":1,"v":0.08},{"r":8,"c":2,"v":0.02},{"r":8,"c":3,"v":0.01},{"r":8,"c":4,"v":-0.03},{"r":8,"c":5,"v":0.03},{"r":8,"c":6,"v":-0.01},{"r":8,"c":7,"v":-0.03},{"r":8,"c":8,"v":-0.03},{"r":8,"c":9,"v":-0.05},{"r":8,"c":10,"v":0.05},{"r":8,"c":11,"v":0.05},{"r":8,"c":12,"v":-0.06},{"r":8,"c":13,"v":-0.07},{"r":8,"c":14,"v":0.14},{"r":8,"c":15,"v":0.08},{"r":8,"c":16,"v":-0.02},{"r":8,"c":17,"v":-0.04},{"r":8,"c":18,"v":-0.1},{"r":8,"c":19,"v":-0.11},{"r":8,"c":20,"v":0.02},{"r":8,"c":21,"v":0.01},{"r":8,"c":22,"v":0.02}]
},
"concat":[
{"title":{"text":"A","dx":-29,"offset":-42},"width":268.3,"height":324,
"layer":[
{"data":{"values":[{}]},"mark":{"type":"rect","fill":null,"stroke":"#8a8a8a","strokeWidth":1},"encoding":{"x":{"datum":-1.82,"type":"quantitative","scale":{"domain":[-1.82,7.82],"range":[3.8,268.3],"nice":false,"zero":false},"axis":{"title":"RDA 1 (4.98%)","values":[0,2.5,5,7.5],"format":".1f","titlePadding":3}},"x2":{"datum":7.82},"y":{"datum":3.29,"type":"quantitative","scale":{"domain":[-5.09,3.29],"range":[324,31],"nice":false,"zero":false},"axis":{"title":"RDA 2 (2.394%)","values":[-5,-2.5,0,2.5],"format":".1f","offset":-3.8,"titlePadding":2}},"y2":{"datum":-5.09}}},
{"data":{"values":[{}]},"mark":{"type":"rule","stroke":"#000000","strokeWidth":1.3,"strokeDash":[1.5,4.2]},"encoding":{"x":{"datum":0},"y":{"datum":3.29},"y2":{"datum":-5.09}}},
{"data":{"values":[{}]},"mark":{"type":"rule","stroke":"#000000","strokeWidth":1.3,"strokeDash":[1.5,4.2]},"encoding":{"y":{"datum":0},"x":{"datum":-1.7},"x2":{"datum":7.65}}},
{"data":{"name":"a_pts"},"mark":{"type":"point","filled":true,"opacity":1,"stroke":"#1a1a1a","strokeWidth":0.6,"size":18},"encoding":{"x":{"field":"x","type":"quantitative"},"y":{"field":"y","type":"quantitative"},"color":{"field":"g","type":"nominal","scale":{"domain":["DM","DNa","DNb"],"range":["#b5323f","#f2eeb3","#2b78ad"]},"legend":{"title":null,"orient":"none","legendX":279,"legendY":163,"padding":0,"symbolSize":18,"symbolStrokeColor":"#1a1a1a","symbolStrokeWidth":0.6,"labelFontSize":8.6,"labelColor":"#222222","rowPadding":2.6,"labelOffset":5}}}},
{"data":{"name":"a_sp"},"mark":{"type":"rule","stroke":"#1f5fa8","strokeWidth":0.8},"encoding":{"x":{"field":"x","type":"quantitative"},"x2":{"datum":0},"y":{"field":"y","type":"quantitative"},"y2":{"datum":0}}},
{"data":{"name":"a_env"},"mark":{"type":"rule","stroke":"#ee1c22","strokeWidth":0.9},"encoding":{"x":{"field":"x","type":"quantitative"},"x2":{"datum":0},"y":{"field":"y","type":"quantitative"},"y2":{"datum":0}}},
{"data":{"name":"a_sp"},"mark":{"type":"point","shape":"triangle-up","filled":true,"opacity":1,"color":"#1f5fa8","size":9},"encoding":{"x":{"field":"x","type":"quantitative"},"y":{"field":"y","type":"quantitative"},"angle":{"field":"bearing","type":"quantitative","scale":null}}},
{"data":{"name":"a_env"},"mark":{"type":"point","shape":"triangle-up","filled":true,"opacity":1,"color":"#ee1c22","size":11},"encoding":{"x":{"field":"x","type":"quantitative"},"y":{"field":"y","type":"quantitative"},"angle":{"field":"bearing","type":"quantitative","scale":null}}},
{"data":{"name":"a_sp"},"mark":{"type":"text","fontSize":7.6,"fontStyle":"italic","color":"#3c6cbd"},"encoding":{"x":{"field":"label_x","type":"quantitative"},"y":{"field":"label_y","type":"quantitative"},"text":{"field":"name"}}},
{"data":{"name":"a_env"},"mark":{"type":"text","fontSize":7.6,"color":"#f5353b"},"encoding":{"x":{"field":"label_x","type":"quantitative"},"y":{"field":"label_y","type":"quantitative"},"text":{"field":"name"}}}
]},
{"title":{"text":"B","dx":2,"offset":-42},"width":388,"height":363,
"layer":[
{"data":{"values":[{}]},"mark":{"type":"rect","fill":null,"stroke":"#e4e4e4","strokeWidth":1},"encoding":{"x":{"datum":-2.207,"type":"quantitative","scale":{"domain":[-2.207,21.38],"nice":false,"zero":false},"axis":null},"x2":{"datum":21.38},"y":{"datum":-1.446,"type":"quantitative","scale":{"domain":[10.846,-1.446],"nice":false,"zero":false},"axis":null},"y2":{"datum":10.846}}},
{"data":{"name":"b_heat"},"mark":{"type":"rect","stroke":"#a6a6a6","strokeWidth":0.7},"encoding":{"x":{"field":"c","type":"quantitative","bin":{"step":1,"extent":[0,17],"nice":false},"axis":null},"y":{"field":"r","type":"quantitative","bin":{"step":1,"extent":[0,10],"nice":false},"axis":null},"color":{"field":"v","type":"quantitative","scale":{"type":"linear","interpolate":"rgb","domain":[-0.3,-0.225,-0.15,-0.075,0,0.075,0.15,0.225,0.3],"range":["#313695","#4575b4","#74add1","#abd9e9","#fee090","#fdae61","#f46d43","#d73027","#a50026"]},"legend":{"title":null,"orient":"none","legendX":365,"legendY":42.7,"padding":0,"direction":"vertical","gradientLength":97,"gradientThickness":6.5,"gradientStrokeWidth":0,"values":[-0.3,-0.2,-0.1,0,0.1,0.2,0.3],"labelFontSize":6.5,"labelColor":"#333333","labelOffset":3}}}},
{"data":{"name":"b_sig"},"mark":{"type":"text","fontSize":5,"color":"#ffffff","dy":1},"encoding":{"x":{"field":"c","type":"quantitative","bin":{"step":1,"extent":[0,17],"nice":false},"axis":null},"y":{"field":"r","type":"quantitative","bin":{"step":1,"extent":[0,10],"nice":false},"axis":null},"text":{"field":"sig"}}},
{"data":{"name":"b_rows"},"mark":{"type":"text","fontSize":5.2,"align":"left","color":"#222222"},"encoding":{"x":{"datum":17.12,"axis":null},"y":{"field":"r","type":"quantitative","bin":{"step":1,"extent":[0,10],"nice":false},"axis":null},"text":{"field":"label"}}},
{"data":{"name":"b_cols"},"mark":{"type":"text","fontSize":5,"align":"right","angle":270,"color":"#222222"},"encoding":{"x":{"field":"c","type":"quantitative","bin":{"step":1,"extent":[0,17],"nice":false},"axis":null},"y":{"datum":10.1,"axis":null},"text":{"field":"label"}}},
{"data":{"name":"b_top"},"mark":{"type":"rule","stroke":"#777777","strokeWidth":0.8},"encoding":{"x":{"field":"a","type":"quantitative","axis":null},"y":{"field":"da","type":"quantitative","axis":null},"y2":{"field":"h"}}},
{"data":{"name":"b_top"},"mark":{"type":"rule","stroke":"#777777","strokeWidth":0.8},"encoding":{"x":{"field":"b","type":"quantitative","axis":null},"y":{"field":"db","type":"quantitative","axis":null},"y2":{"field":"h"}}},
{"data":{"name":"b_top"},"mark":{"type":"rule","stroke":"#777777","strokeWidth":0.8},"encoding":{"x":{"field":"a","type":"quantitative","axis":null},"x2":{"field":"b"},"y":{"field":"h","type":"quantitative","axis":null}}},
{"data":{"name":"b_left"},"mark":{"type":"rule","stroke":"#777777","strokeWidth":0.8},"encoding":{"y":{"field":"a","type":"quantitative","axis":null},"x":{"field":"da","type":"quantitative","axis":null},"x2":{"field":"h"}}},
{"data":{"name":"b_left"},"mark":{"type":"rule","stroke":"#777777","strokeWidth":0.8},"encoding":{"y":{"field":"b","type":"quantitative","axis":null},"x":{"field":"db","type":"quantitative","axis":null},"x2":{"field":"h"}}},
{"data":{"name":"b_left"},"mark":{"type":"rule","stroke":"#777777","strokeWidth":0.8},"encoding":{"y":{"field":"a","type":"quantitative","axis":null},"y2":{"field":"b"},"x":{"field":"h","type":"quantitative","axis":null}}}
]},
{"title":{"text":"C","dx":-29,"offset":-37},"width":268.3,"height":313,
"layer":[
{"data":{"values":[{}]},"mark":{"type":"rect","fill":null,"stroke":"#8a8a8a","strokeWidth":1},"encoding":{"x":{"datum":-2.43,"type":"quantitative","scale":{"domain":[-2.43,2.24],"range":[0,266.6],"nice":false,"zero":false},"axis":{"title":"RDA 1 (8.338%)","values":[-2,-1,0,1,2],"format":"d","titlePadding":3}},"x2":{"datum":2.24},"y":{"datum":2.867,"type":"quantitative","scale":{"domain":[-3.57,2.867],"range":[313,22.7],"nice":false,"zero":false},"axis":{"title":"RDA 2 (6.334%)","values":[-3,-2,-1,0,1,2],"format":"d","titlePadding":1}},"y2":{"datum":-3.57}}},
{"data":{"values":[{}]},"mark":{"type":"rule","stroke":"#000000","strokeWidth":1.3,"strokeDash":[1.5,4.2]},"encoding":{"x":{"datum":0},"y":{"datum":2.867},"y2":{"datum":-3.57}}},
{"data":{"values":[{}]},"mark":{"type":"rule","stroke":"#000000","strokeWidth":1.3,"strokeDash":[1.5,4.2]},"encoding":{"y":{"datum":0},"x":{"datum":-2.35},"x2":{"datum":2.2}}},
{"data":{"name":"c_pts"},"mark":{"type":"point","filled":true,"opacity":1,"stroke":"#1a1a1a","strokeWidth":0.5},"encoding":{"x":{"field":"x","type":"quantitative"},"y":{"field":"y","type":"quantitative"},"color":{"field":"g","type":"nominal","scale":{"domain":["DNa","DNb","DM"],"range":["#b5323f","#efe9c8","#2b78ad"]},"legend":{"title":null,"orient":"none","legendX":276,"legendY":154,"padding":0,"symbolSize":16,"symbolStrokeColor":"#1a1a1a","symbolStrokeWidth":0.5,"labelFontSize":8.6,"labelColor":"#222222","rowPadding":2.6,"labelOffset":5}},"shape":{"field":"g","type":"nominal","scale":{"domain":["DNa","DNb","DM"],"range":["circle","square","triangle-up"]}},"size":{"field":"g","type":"ordinal","scale":{"domain":["DNa","DNb","DM"],"range":[12,10,20]},"legend":null}}},
{"data":{"name":"c_sp"},"mark":{"type":"rule","stroke":"#3f78c4","strokeWidth":0.7},"encoding":{"x":{"field":"x","type":"quantitative"},"x2":{"datum":0},"y":{"field":"y","type":"quantitative"},"y2":{"datum":0}}},
{"data":{"name":"c_env"},"mark":{"type":"rule","stroke":"#f23a3a","strokeWidth":0.7},"encoding":{"x":{"field":"x","type":"quantitative"},"x2":{"datum":0},"y":{"field":"y","type":"quantitative"},"y2":{"datum":0}}},
{"data":{"name":"c_sp"},"mark":{"type":"point","shape":"triangle-up","filled":true,"opacity":1,"color":"#2f68b4","size":6},"encoding":{"x":{"field":"x","type":"quantitative"},"y":{"field":"y","type":"quantitative"},"angle":{"field":"bearing","type":"quantitative","scale":null}}},
{"data":{"name":"c_env"},"mark":{"type":"point","shape":"triangle-up","filled":true,"opacity":1,"color":"#ee1c22","size":16},"encoding":{"x":{"field":"x","type":"quantitative"},"y":{"field":"y","type":"quantitative"},"angle":{"field":"bearing","type":"quantitative","scale":null}}},
{"data":{"name":"c_sp"},"mark":{"type":"text","fontSize":9.4,"fontStyle":"italic","color":"#3c6cbd"},"encoding":{"x":{"field":"label_x","type":"quantitative"},"y":{"field":"label_y","type":"quantitative"},"text":{"field":"name"}}},
{"data":{"name":"c_env"},"transform":[{"filter":{"field":"label_x","valid":true}}],"mark":{"type":"text","fontSize":8.5,"color":"#f5353b"},"encoding":{"x":{"field":"label_x","type":"quantitative"},"y":{"field":"label_y","type":"quantitative"},"text":{"field":"name"}}}
]},
{"title":{"text":"D","dx":2,"offset":-41},"width":388,"height":356,
"layer":[
{"data":{"name":"d_heat"},"mark":{"type":"rect","stroke":"#a6a6a6","strokeWidth":0.7},"encoding":{"x":{"field":"c","type":"quantitative","bin":{"step":1,"extent":[0,23],"nice":false},"scale":{"domain":[-2.98,29.79],"nice":false,"zero":false},"axis":null},"y":{"field":"r","type":"quantitative","bin":{"step":1,"extent":[0,9],"nice":false},"scale":{"domain":[9.67,-1.304],"nice":false,"zero":false},"axis":null},"color":{"field":"v","type":"quantitative","scale":{"type":"linear","interpolate":"rgb","domain":[-0.6,-0.45,-0.3,-0.15,0,0.12,0.25,0.37,0.49],"range":["#313695","#4575b4","#74add1","#abd9e9","#fee090","#fdae61","#f46d43","#d73027","#a50026"]},"legend":{"title":null,"orient":"none","legendX":372.3,"legendY":42.3,"padding":0,"direction":"vertical","gradientLength":96,"gradientThickness":6.7,"gradientStrokeWidth":0,"values":[-0.6,-0.4,-0.2,0,0.2,0.4],"labelFontSize":6.2,"labelColor":"#333333","labelOffset":2}}}},
{"data":{"name":"d_sig"},"mark":{"type":"text","fontSize":5,"color":"#ffffff","dy":1},"encoding":{"x":{"field":"c","type":"quantitative","bin":{"step":1,"extent":[0,23],"nice":false},"axis":null},"y":{"field":"r","type":"quantitative","bin":{"step":1,"extent":[0,9],"nice":false},"axis":null},"text":{"field":"sig"}}},
{"data":{"name":"d_rows"},"mark":{"type":"text","fontSize":5.3,"align":"left","color":"#222222"},"encoding":{"x":{"datum":23.2,"axis":null},"y":{"field":"r","type":"quantitative","bin":{"step":1,"extent":[0,9],"nice":false},"axis":null},"text":{"field":"label"}}},
{"data":{"name":"d_cols"},"mark":{"type":"text","fontSize":5,"align":"right","angle":270,"color":"#222222"},"encoding":{"x":{"field":"c","type":"quantitative","bin":{"step":1,"extent":[0,23],"nice":false},"axis":null},"y":{"datum":9.07,"axis":null},"text":{"field":"label"}}},
{"data":{"name":"d_top"},"mark":{"type":"rule","stroke":"#777777","strokeWidth":0.8},"encoding":{"x":{"field":"a","type":"quantitative","axis":null},"y":{"field":"da","type":"quantitative","axis":null},"y2":{"field":"h"}}},
{"data":{"name":"d_top"},"mark":{"type":"rule","stroke":"#777777","strokeWidth":0.8},"encoding":{"x":{"field":"b","type":"quantitative","axis":null},"y":{"field":"db","type":"quantitative","axis":null},"y2":{"field":"h"}}},
{"data":{"name":"d_top"},"mark":{"type":"rule","stroke":"#777777","strokeWidth":0.8},"encoding":{"x":{"field":"a","type":"quantitative","axis":null},"x2":{"field":"b"},"y":{"field":"h","type":"quantitative","axis":null}}},
{"data":{"name":"d_left"},"mark":{"type":"rule","stroke":"#777777","strokeWidth":0.8},"encoding":{"y":{"field":"a","type":"quantitative","axis":null},"x":{"field":"da","type":"quantitative","axis":null},"x2":{"field":"h"}}},
{"data":{"name":"d_left"},"mark":{"type":"rule","stroke":"#777777","strokeWidth":0.8},"encoding":{"y":{"field":"b","type":"quantitative","axis":null},"x":{"field":"db","type":"quantitative","axis":null},"x2":{"field":"h"}}},
{"data":{"name":"d_left"},"mark":{"type":"rule","stroke":"#777777","strokeWidth":0.8},"encoding":{"y":{"field":"a","type":"quantitative","axis":null},"y2":{"field":"b"},"x":{"field":"h","type":"quantitative","axis":null}}}
]}
]}
